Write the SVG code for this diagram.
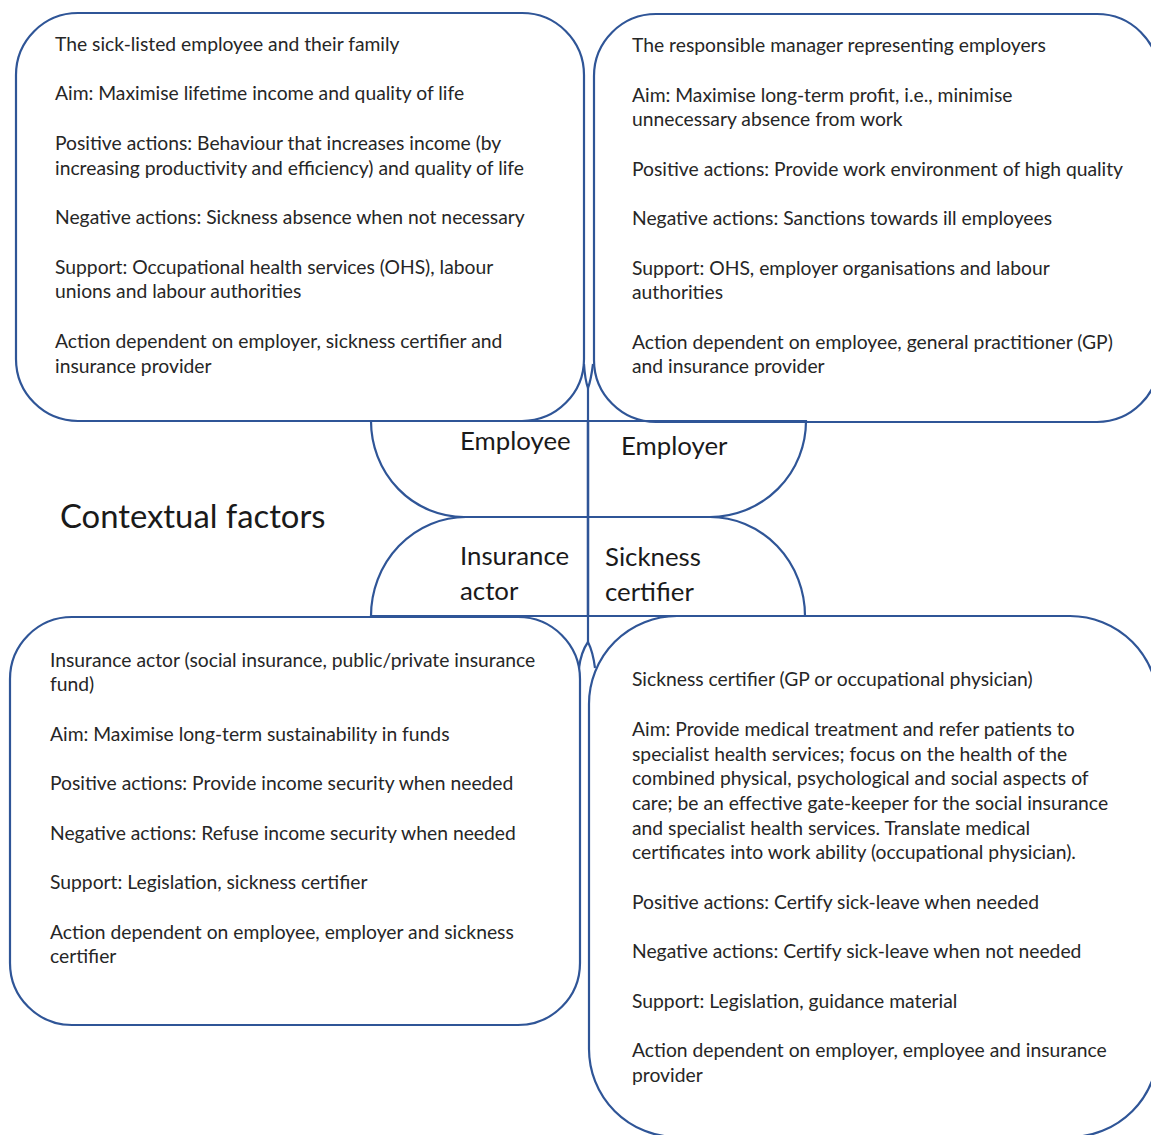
<svg xmlns="http://www.w3.org/2000/svg" width="1151" height="1135" viewBox="0 0 1151 1135">
<style>
.box{fill:#fff;stroke:#2f5597;stroke-width:2.2}
.sh{fill:none;stroke:#2f5597;stroke-width:2.2}
.t{font-family:Lato,"Liberation Sans",sans-serif;font-size:19.3px;fill:#262626}
.lbl{font-family:Lato,"Liberation Sans",sans-serif;font-size:25.8px;fill:#1a1a1a}
.ctx{font-family:Lato,"Liberation Sans",sans-serif;font-size:32.8px;fill:#1a1a1a}
</style>
<rect width="1151" height="1135" fill="#fff"/>
<g id="employee-box">
<rect class="box" x="16" y="13" width="568" height="408" rx="62"/>
<text class="t" x="55" y="51">The sick-listed employee and their family</text>
<text class="t" x="55" y="100">Aim: Maximise lifetime income and quality of life</text>
<text class="t" x="55" y="150">Positive actions: Behaviour that increases income (by</text>
<text class="t" x="55" y="175">increasing productivity and efficiency) and quality of life</text>
<text class="t" x="55" y="224">Negative actions: Sickness absence when not necessary</text>
<text class="t" x="55" y="274">Support: Occupational health services (OHS), labour</text>
<text class="t" x="55" y="298">unions and labour authorities</text>
<text class="t" x="55" y="348">Action dependent on employer, sickness certifier and</text>
<text class="t" x="55" y="373">insurance provider</text>
</g>
<g id="employer-box">
<rect class="box" x="594" y="14" width="565" height="408" rx="62"/>
<text class="t" x="632" y="52">The responsible manager representing employers</text>
<text class="t" x="632" y="102">Aim: Maximise long-term profit, i.e., minimise</text>
<text class="t" x="632" y="126">unnecessary absence from work</text>
<text class="t" x="632" y="176">Positive actions: Provide work environment of high quality</text>
<text class="t" x="632" y="225">Negative actions: Sanctions towards ill employees</text>
<text class="t" x="632" y="275">Support: OHS, employer organisations and labour</text>
<text class="t" x="632" y="299">authorities</text>
<text class="t" x="632" y="349">Action dependent on employee, general practitioner (GP)</text>
<text class="t" x="632" y="373">and insurance provider</text>
</g>
<g id="insurance-box">
<rect class="box" x="10" y="617" width="570" height="408" rx="62"/>
<text class="t" x="50" y="667">Insurance actor (social insurance, public/private insurance</text>
<text class="t" x="50" y="691">fund)</text>
<text class="t" x="50" y="741">Aim: Maximise long-term sustainability in funds</text>
<text class="t" x="50" y="790">Positive actions: Provide income security when needed</text>
<text class="t" x="50" y="840">Negative actions: Refuse income security when needed</text>
<text class="t" x="50" y="889">Support: Legislation, sickness certifier</text>
<text class="t" x="50" y="939">Action dependent on employee, employer and sickness</text>
<text class="t" x="50" y="963">certifier</text>
</g>
<g id="certifier-box">
<rect class="box" x="589" y="616" width="569" height="521" rx="88"/>
<text class="t" x="632" y="686">Sickness certifier (GP or occupational physician)</text>
<text class="t" x="632" y="736">Aim: Provide medical treatment and refer patients to</text>
<text class="t" x="632" y="761">specialist health services; focus on the health of the</text>
<text class="t" x="632" y="785">combined physical, psychological and social aspects of</text>
<text class="t" x="632" y="810">care; be an effective gate-keeper for the social insurance</text>
<text class="t" x="632" y="835">and specialist health services. Translate medical</text>
<text class="t" x="632" y="859">certificates into work ability (occupational physician).</text>
<text class="t" x="632" y="909">Positive actions: Certify sick-leave when needed</text>
<text class="t" x="632" y="958">Negative actions: Certify sick-leave when not needed</text>
<text class="t" x="632" y="1008">Support: Legislation, guidance material</text>
<text class="t" x="632" y="1057">Action dependent on employer, employee and insurance</text>
<text class="t" x="632" y="1082">provider</text>
</g>
<g id="employee">
<path class="sh" d="M371,421 A93,96 0 0 0 464,517 L588,517 L588,421 Z"/>
<text class="lbl" x="460" y="450">Employee</text>
</g>
<g id="employer">
<path class="sh" d="M806,421 A96,96 0 0 1 710,517 L588,517 L588,421 Z"/>
<text class="lbl" x="621" y="455">Employer</text>
</g>
<g id="insurance-actor">
<path class="sh" d="M466,517 A95,99 0 0 0 371,616 L588,616 L588,517 Z"/>
<text class="lbl" x="460" y="565">Insurance</text>
<text class="lbl" x="460" y="600">actor</text>
</g>
<g id="sickness-certifier">
<path class="sh" d="M710,517 A95,99 0 0 1 805,616 L588,616 L588,517 Z"/>
<text class="lbl" x="605" y="566">Sickness</text>
<text class="lbl" x="605" y="601">certifier</text>
</g>
<g id="connectors">
<path class="sh" d="M584,364 Q585,380 588,388 Q591,380 593,364"/>
<path class="sh" d="M588,388 L588,642"/>
<path class="sh" d="M579,668 Q581,652 588,642 Q593,652 595,668"/>
</g>
<g id="context">
<text class="ctx" x="60" y="528">Contextual factors</text>
</g>
</svg>
